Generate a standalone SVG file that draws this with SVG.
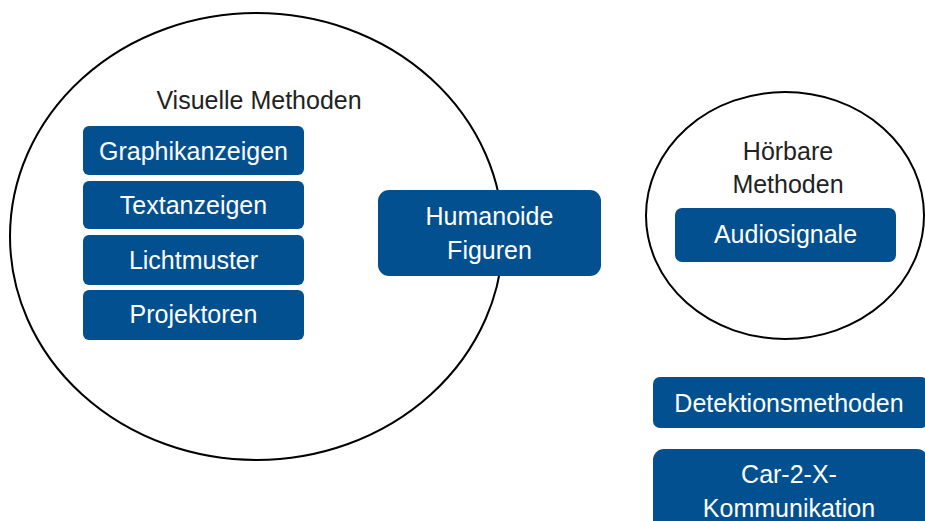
<svg xmlns="http://www.w3.org/2000/svg" width="925" height="521" viewBox="0 0 925 521">
<style>
.circ{fill:#fff;stroke:#000;stroke-width:2}
.box{fill:#02508f;stroke:none}
.bt{font-family:"Liberation Sans",Arial,sans-serif;font-size:25px;fill:#fff;text-anchor:middle}
.ht{font-family:"Liberation Sans",Arial,sans-serif;font-size:25px;fill:#222;text-anchor:middle}
</style>
<rect width="925" height="521" fill="#fff"/>
<g id="visuelle">
<ellipse class="circ" cx="256.5" cy="236.5" rx="246.5" ry="223.5"/>
<text class="ht" x="259" y="109">Visuelle Methoden</text>
</g>
<g id="hoerbare">
<ellipse class="circ" cx="785" cy="215.5" rx="139" ry="123.5"/>
<text class="ht" x="788" y="160">Hörbare</text>
<text class="ht" x="788" y="193">Methoden</text>
</g>
<g id="graphikanzeigen">
<rect class="box" x="83" y="126" width="221" height="49" rx="6"/>
<text class="bt" x="193.5" y="160">Graphikanzeigen</text>
</g>
<g id="textanzeigen">
<rect class="box" x="83" y="181" width="221" height="48" rx="6"/>
<text class="bt" x="193.5" y="214">Textanzeigen</text>
</g>
<g id="lichtmuster">
<rect class="box" x="83" y="235" width="221" height="50" rx="6"/>
<text class="bt" x="193.5" y="269">Lichtmuster</text>
</g>
<g id="projektoren">
<rect class="box" x="83" y="290" width="221" height="50" rx="6"/>
<text class="bt" x="193.5" y="323">Projektoren</text>
</g>
<g id="humanoide">
<rect class="box" x="378" y="190" width="223" height="86" rx="11"/>
<text class="bt" x="489.5" y="225">Humanoide</text>
<text class="bt" x="489.5" y="259">Figuren</text>
</g>
<g id="audiosignale">
<rect class="box" x="675" y="208" width="221" height="54" rx="7"/>
<text class="bt" x="785.5" y="243">Audiosignale</text>
</g>
<g id="detektionsmethoden">
<rect class="box" x="653" y="377" width="275" height="51" rx="7"/>
<text class="bt" x="789" y="412">Detektionsmethoden</text>
</g>
<g id="car2x">
<rect class="box" x="653" y="449" width="275" height="90" rx="11"/>
<text class="bt" x="789" y="483">Car-2-X-</text>
<text class="bt" x="789" y="517">Kommunikation</text>
</g>
<g id="connectors"></g>
</svg>
